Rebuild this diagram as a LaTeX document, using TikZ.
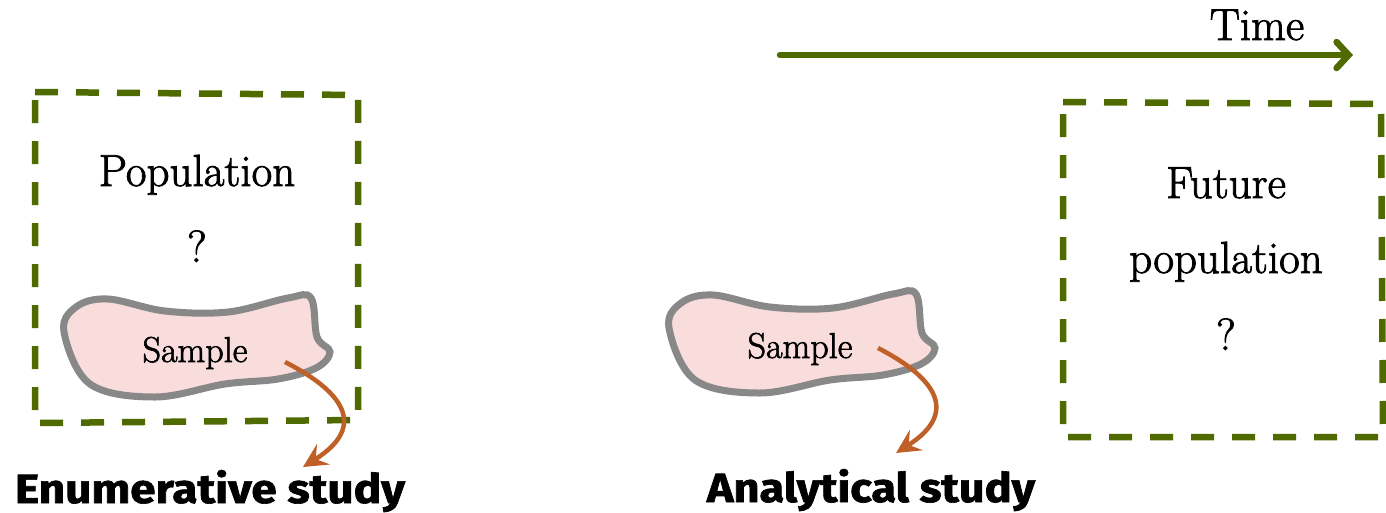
\documentclass[tikz,border=0pt]{standalone}
\usepackage{fontspec}
\newfontfamily\labelfont{Fira Sans}[BoldFeatures={FakeBold=1.6}]
\newfontfamily\bodyfont{Latin Modern Roman}[FakeBold=1.8]
\usetikzlibrary{arrows.meta}
\definecolor{olive}{RGB}{79,107,0}
\definecolor{rust}{RGB}{190,96,40}
\definecolor{blobfill}{RGB}{249,220,220}
\definecolor{blobline}{RGB}{136,136,136}
\tikzset{
  framebox/.style={draw=olive, line width=6.5pt, dash pattern=on 23pt off 18pt, line join=round},
  blob/.style={draw=blobline, fill=blobfill, line width=7pt},
  serif/.style={font=\bodyfont\fontsize{45}{54}\selectfont, anchor=base, inner sep=0pt},
  small/.style={font=\bodyfont\fontsize{36}{43}\selectfont, anchor=base, inner sep=0pt},
  study/.style={anchor=base, inner sep=0pt},
  flow/.style={draw=rust, line width=4.5pt, -{Stealth[length=24pt, width=24pt, inset=9pt]}},
  timeline/.style={draw=olive, line width=6.5pt, line cap=round, -{Straight Barb[length=12pt, width=26pt, line cap=round]}}
}
\begin{document}
\begin{tikzpicture}[x=1pt, y=-1pt]
\useasboundingbox (0,0) rectangle (1386,512);

% time axis
\coordinate (tstart) at (780,55);
\coordinate (tend) at (1353,55);
\draw[timeline] (tstart) -- (tend);
\node[serif] (time) at (1257,40) {Time};

% current population frame
\draw[framebox] (35,92) -- (358,95) -- (358,420) -- (35,423) -- cycle;
\node[serif] (pop) at (197,186) {Population};
\node[serif] (popq) at (197,262) {?};

% future population frame
\draw[framebox] (1063,102) -- (1381,104) -- (1383,437) -- (1063,437) -- cycle;
\node[serif] (fut) at (1226,198) {Future};
\node[serif] (futpop) at (1226,273) {population};
\node[serif] (futq) at (1226,350) {?};

% sample blobs
\foreach \dx/\dy/\nm in {0/0/a, 605/-4/b}{
  \begin{scope}[shift={(\dx,\dy)}]
    \draw[blob] plot[smooth cycle, tension=0.6] coordinates {
      (64,332) (76,307) (108,299) (165,311) (228,312) (288,298) (311,298)
      (317,337) (330,352) (316,368) (278,379) (225,384) (155,397) (90,384)};
  \end{scope}
}
\node[small] (sa) at (195,362) {Sample};
\node[small] (sb) at (800,358) {Sample};
\coordinate (sastart) at (285,362);
\coordinate (sbstart) at (878,348);

% study labels
\node[study] (enum) at (210,503) {\resizebox{390pt}{33pt}{\labelfont\bfseries Enumerative study}};
\node[study] (anal) at (871,502) {\resizebox{328pt}{33pt}{\labelfont\bfseries Analytical study}};
\coordinate (enumtip) at (303,467);
\coordinate (analtip) at (896,453);

% inference arrows
\draw[flow] (sastart) .. controls (340,390) and (370,425) .. (enumtip);
\draw[flow] (sbstart) .. controls (932,376) and (962,411) .. (analtip);
\end{tikzpicture}
\end{document}
